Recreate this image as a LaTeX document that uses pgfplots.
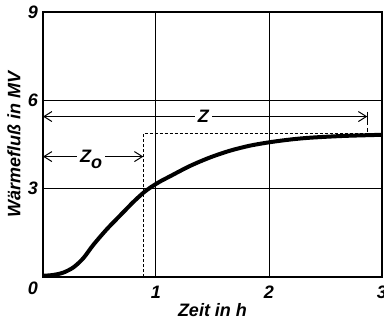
\documentclass[border=0pt]{standalone}
\usepackage{fontspec}
\setmainfont{Liberation Sans}
\usepackage{pgfplots}
\pgfplotsset{compat=1.18}
\usetikzlibrary{arrows.meta}

\begin{document}
\begin{tikzpicture}[font=\fontsize{9}{10}\selectfont\bfseries\itshape]
\begin{axis}[
  scale only axis,
  width=169.5pt,height=132.5pt,
  xmin=0,xmax=3,ymin=0,ymax=9,
  xtick={1,2,3},ytick={3,6,9},
  grid=major,
  grid style={draw=black,line width=0.5pt},
  axis line style={line width=0.9pt},
  tick style={draw=none},
  /pgf/number format/assume math mode=true,
  tick label style={font=\fontsize{9}{10}\selectfont\bfseries\itshape},
  xticklabel style={anchor=north,yshift=-1pt},
  yticklabel style={anchor=east,xshift=1pt},
  xlabel={Zeit in h},
  ylabel={Wärmefluß in MV},
  xlabel style={at={(axis description cs:0.5,0)},anchor=center,yshift=-16.5pt},
  ylabel style={at={(axis description cs:-0.0855,0.5)},anchor=center},
  clip=false]
% Anlaufkurve
\addplot[black,line width=2pt,smooth,tension=0.5] coordinates {
(0,0.04) (0.09,0.07) (0.18,0.15) (0.27,0.33) (0.357,0.64) (0.445,1.09)
(0.564,1.62) (0.68,2.08) (0.8,2.55) (0.888,2.86) (0.947,3.03) (1.03,3.23)
(1.124,3.42) (1.3,3.77) (1.478,4.06) (1.655,4.29) (1.83,4.46) (2.01,4.58)
(2.19,4.67) (2.36,4.73) (2.65,4.79) (3.0,4.83)};
% Ersatzsprung
\addplot[black,line width=0.7pt,dash pattern=on 1.5pt off 1pt] coordinates {
(0.888,0) (0.888,4.88) (3,4.88)};
% Z und Z_o
\addplot[black,line width=0.5pt,{Straight Barb[length=4pt,width=5pt]}-{Straight Barb[length=4pt,width=5pt]}]
  coordinates {(0,5.45) (2.87,5.45)};
\addplot[black,line width=0.5pt] coordinates {(2.87,5.62) (2.87,5.3)};
\addplot[black,line width=0.5pt,dash pattern=on 2pt off 1.5pt] coordinates {(2.87,5.3) (2.87,4.88)};
\addplot[black,line width=0.5pt,{Straight Barb[length=4pt,width=5pt]}-{Straight Barb[length=4pt,width=5pt]}]
  coordinates {(0,4.09) (0.888,4.09)};
\node[fill=white,inner sep=1.5pt] at (axis cs:1.42,5.45) {Z};
\node[fill=white,inner sep=1.5pt] at (axis cs:0.425,4.0) {Z\raisebox{-3pt}{o}};
\node at (axis cs:0,0) [xshift=-5pt,yshift=-5.5pt] {0};
\end{axis}
\pgfresetboundingbox
\path[use as bounding box] (-21.5pt,-23pt) rectangle (170.5pt,138.5pt);
\end{tikzpicture}
\end{document}
